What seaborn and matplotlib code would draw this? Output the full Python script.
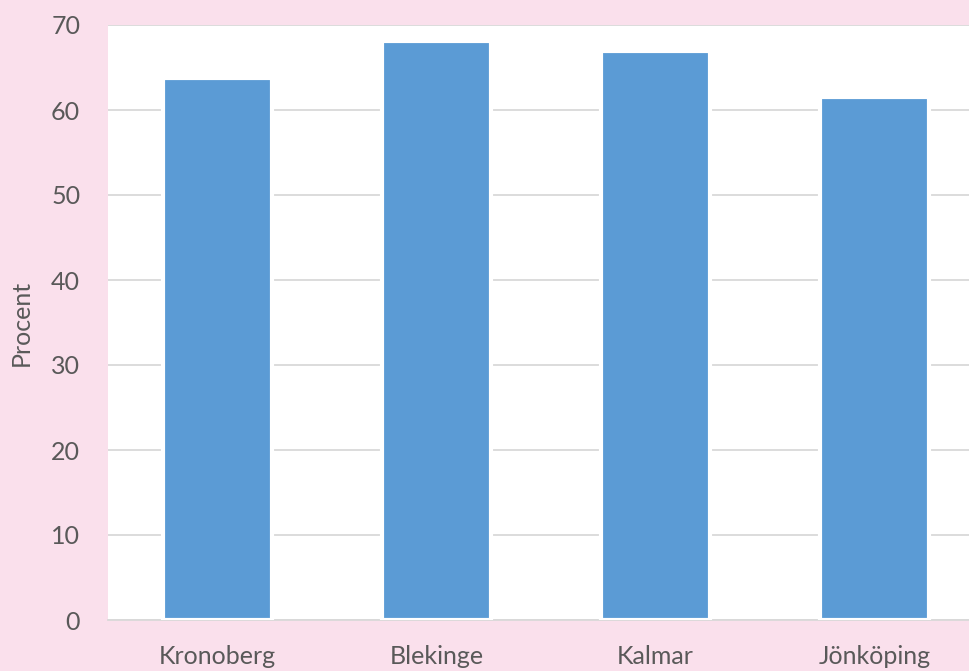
import matplotlib
matplotlib.use("Agg")
import matplotlib.pyplot as plt
import seaborn as sns
import pandas as pd
from matplotlib.ticker import FixedLocator

# Share (percent) per county
counties = ["Kronoberg", "Blekinge", "Kalmar", "Jönköping"]
percent = [63.8, 68.1, 67.0, 61.5]
y_ticks = [0, 10, 20, 30, 40, 50, 60, 70]

df = pd.DataFrame({"Län": counties, "Procent": percent})

sns.set_theme(style="white")
plt.rcParams["font.family"] = ["Lato", "DejaVu Sans"]

W, H = 969, 671
fig = plt.figure(figsize=(W / 100, H / 100), dpi=100)
fig.patch.set_facecolor("#FAE0EC")

# plot area: left edge at 108 px, one category = 219 px, 0..70 spans 25..620 px
left, right_px = 108, 108 + 4 * 219
top, bottom = 25, 620
ax = fig.add_axes([left / W, 1 - bottom / H, (right_px - left) / W, (bottom - top) / H])
ax.set_facecolor("white")

sns.barplot(data=df, x="Län", y="Procent", color="#5B9BD5", saturation=1,
            width=0.50, edgecolor="white", linewidth=3.0, ax=ax, zorder=3)

ax.set_xlim(-0.5, 3.5)
ax.set_ylim(0, 70)
ax.set_yticks(y_ticks)
ax.yaxis.grid(True, color="#D9D9D9", linewidth=1.3, zorder=0)
ax.set_axisbelow(True)

text_color = "#595959"
ax.tick_params(axis="y", length=0, pad=20, labelsize=18, labelcolor=text_color)
ax.tick_params(axis="x", which="major", length=0, pad=18, labelsize=18, labelcolor=text_color)
ax.xaxis.set_minor_locator(FixedLocator([-0.5, 0.5, 1.5, 2.5, 3.5]))
ax.tick_params(axis="x", which="minor", length=7, width=1.3, color="#D9D9D9")

for s in ["left", "right", "top"]:
    ax.spines[s].set_visible(False)
ax.spines["bottom"].set_color("#D9D9D9")
ax.spines["bottom"].set_linewidth(1.3)
ax.spines["bottom"].set_zorder(1)

ax.set_xlabel("")
ax.set_ylabel("Procent", fontsize=18, color=text_color, labelpad=13)

fig.savefig("out.png", dpi=100, facecolor=fig.get_facecolor())
